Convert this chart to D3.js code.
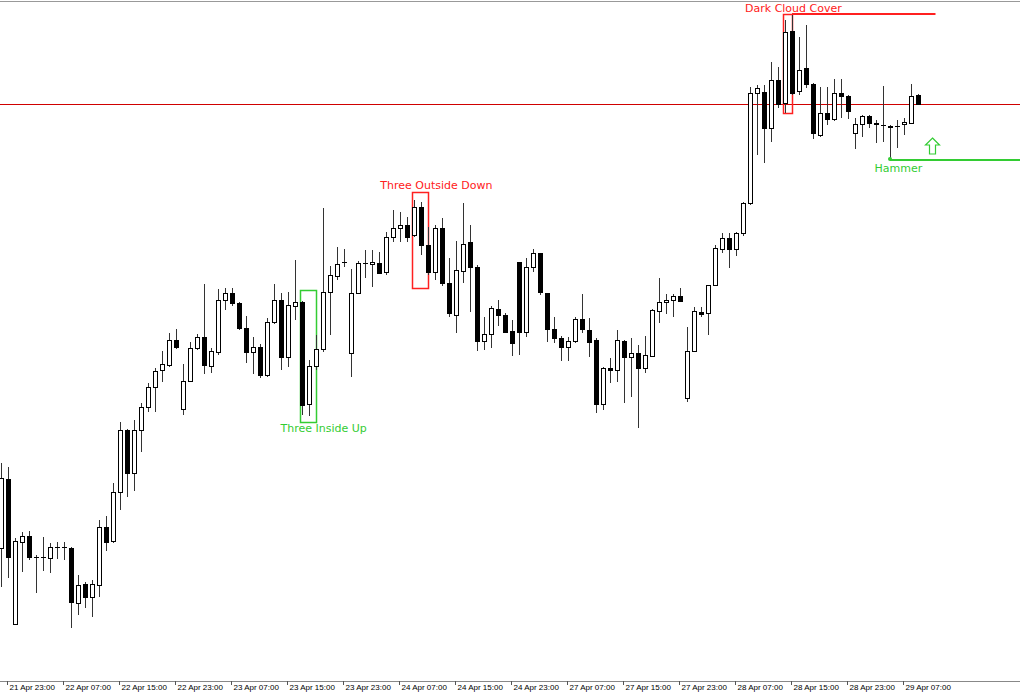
<!DOCTYPE html>
<meta charset="utf-8">
<style>
body { margin: 0; background: #fff; }
.wick { stroke: #333; stroke-width: 1px; shape-rendering: crispEdges; }
.candle { stroke: #000; stroke-width: 1px; shape-rendering: crispEdges; }
.axis text { font-family: "Liberation Sans", sans-serif; font-size: 8px; fill: #000; }
.label { font-family: "DejaVu Sans", sans-serif; font-size: 11px; }
</style>
<svg width="1020" height="700"></svg>
<script src="https://d3js.org/d3.v7.min.js"></script>
<script>

// H1 bars, first one (bar -1) is only half visible at the left edge
// values are price levels (no price scale shown)
var opens = [
  152,
  221, 76, 158, 164, 143, 143, 142, 153, 153, 152,
  97, 116, 103, 115, 173, 159, 208, 270, 227, 270,
  293, 313, 330, 335, 360, 291, 319, 352, 363, 334,
  348, 400, 407, 397, 372, 348, 353, 325, 378, 400,
  343, 394, 398, 296, 334, 351, 408, 424, 438, 347,
  407, 437, 436, 437, 428, 463, 472, 475, 465, 493,
  455, 428, 472, 417, 385, 429, 458, 433, 359, 366,
  391, 385, 369, 438, 368, 433, 447, 407, 371, 362,
  353, 359, 381, 370, 360, 296, 332, 330, 359, 343,
  347, 332, 344, 389, 398, 400, 404, 302, 349, 388,
  387, 415, 451, 462, 451, 467, 497, 607, 608, 572,
  620, 597, 669, 609, 632, 616, 565, 587, 581, 607,
  604, 567, 576, 584, 577, 575, 574, 574, 576, 577,
  605];

var highs = [
  237,
  233, 162, 168, 169, 145, 163, 157, 158, 158, 153,
  125, 118, 120, 180, 184, 217, 278, 271, 280, 297,
  317, 332, 349, 367, 371, 336, 358, 366, 416, 352,
  411, 412, 412, 398, 384, 363, 356, 382, 416, 407,
  408, 440, 399, 340, 365, 492, 434, 453, 451, 431,
  439, 450, 450, 448, 468, 490, 488, 483, 500, 498,
  473, 475, 482, 442, 459, 497, 475, 435, 383, 394,
  400, 387, 380, 438, 442, 451, 447, 407, 383, 364,
  363, 383, 406, 382, 362, 333, 342, 370, 360, 362,
  355, 364, 391, 422, 406, 406, 412, 373, 393, 393,
  415, 455, 467, 467, 468, 498, 613, 615, 615, 638,
  633, 680, 686, 663, 675, 617, 613, 613, 621, 621,
  605, 582, 585, 585, 580, 614, 575, 580, 582, 616,
  606];

var lows = [
  113,
  122, 75, 128, 140, 107, 129, 127, 141, 140, 72,
  85, 92, 83, 103, 149, 157, 190, 203, 209, 248,
  288, 288, 318, 333, 351, 285, 319, 350, 326, 327,
  345, 390, 394, 370, 337, 326, 322, 323, 376, 330,
  333, 380, 285, 284, 330, 348, 365, 420, 433, 323,
  407, 422, 413, 426, 425, 458, 458, 458, 463, 445,
  425, 420, 414, 383, 367, 417, 388, 349, 350, 352,
  374, 367, 344, 345, 363, 428, 405, 358, 357, 339,
  339, 357, 367, 343, 287, 290, 317, 318, 297, 303,
  272, 327, 343, 377, 386, 383, 399, 298, 348, 383,
  365, 414, 447, 432, 444, 464, 495, 545, 537, 558,
  592, 587, 605, 605, 612, 561, 563, 575, 579, 582,
  581, 551, 563, 572, 557, 558, 540, 552, 565, 576,
  596];

var closes = [
  222,
  143, 159, 164, 143, 143, 143, 153, 153, 153, 98,
  115, 103, 116, 173, 158, 208, 270, 227, 270, 293,
  313, 329, 336, 360, 353, 319, 352, 363, 335, 349,
  400, 407, 397, 372, 348, 353, 325, 378, 400, 343,
  395, 398, 295, 334, 351, 408, 425, 436, 438, 407,
  437, 437, 438, 427, 463, 472, 475, 463, 493, 455,
  428, 472, 417, 387, 430, 456, 433, 359, 366, 392,
  385, 368, 357, 368, 433, 447, 408, 371, 362, 353,
  359, 381, 371, 358, 296, 332, 330, 360, 343, 347,
  332, 345, 390, 398, 400, 404, 399, 349, 389, 386,
  415, 452, 462, 451, 467, 497, 607, 612, 572, 620,
  596, 668, 607, 630, 616, 567, 587, 581, 607, 604,
  589, 576, 584, 577, 576, 575, 573, 574, 578, 604,
  596];

var firstBar = -1;

var timeLabels = ["21 Apr 23:00", "22 Apr 07:00", "22 Apr 15:00", "22 Apr 23:00",
  "23 Apr 07:00", "23 Apr 15:00", "23 Apr 23:00", "24 Apr 07:00", "24 Apr 15:00",
  "24 Apr 23:00", "27 Apr 07:00", "27 Apr 15:00", "27 Apr 23:00", "28 Apr 07:00",
  "28 Apr 15:00", "28 Apr 23:00", "29 Apr 07:00"];
var tickBars = timeLabels.map(function(d, i) { return i * 8; });

// candle patterns found
var patternNames = ["Three Inside Up", "Three Outside Down", "Dark Cloud Cover"];
var patternFrom = [42, 58, 111];
var patternTo = [44, 60, 112];
var patternHigh = [410, 508, 686];
var patternLow = [278, 412, 587];
var patternColor = ["#33cc33", "#ff2020", "#ff2020"];
var labelBar = [45.1, 61.2, 112.2];
var labelLevel = [268, 511, 688];

var resistLevel = 596;      // thin red line across the chart
var darkCloudLevel = 686;   // from bar 112
var hammerBar = 126, hammerLevel = 540;
var arrowBar = 132, arrowLow = 546, arrowHigh = 562;

var svg = d3.select("svg"),
    width = +svg.attr("width"),
    height = +svg.attr("height");

var x = d3.scaleLinear().domain([-1, 131]).range([1, 925]);
var y = d3.scaleLinear().domain([0, 700]).range([700, 0]);

var bars = d3.range(opens.length).map(function(i) {
  return { bar: i + firstBar, o: opens[i], h: highs[i], l: lows[i], c: closes[i] };
});

// top border
svg.append("line")
    .attr("x1", 0).attr("x2", width).attr("y1", 1.5).attr("y2", 1.5)
    .attr("stroke", "#999");

// level line
svg.append("line")
    .attr("x1", 0).attr("x2", width)
    .attr("y1", Math.round(y(resistLevel)) + 0.5).attr("y2", Math.round(y(resistLevel)) + 0.5)
    .attr("stroke", "#d00000");

// pattern boxes
svg.selectAll(".pbox")
  .data(patternNames)
  .enter().append("rect")
    .attr("class", "pbox")
    .attr("x", function(d, i) { return x(patternFrom[i]) - 1.5; })
    .attr("y", function(d, i) { return y(patternHigh[i]) + 0.5; })
    .attr("width", function(d, i) { return x(patternTo[i]) - x(patternFrom[i]) + 2; })
    .attr("height", function(d, i) { return y(patternLow[i]) - y(patternHigh[i]); })
    .attr("fill", "none")
    .attr("stroke", function(d, i) { return patternColor[i]; })
    .attr("stroke-width", 1.5);

// wicks
svg.selectAll(".wick")
  .data(bars)
  .enter().append("line")
    .attr("class", "wick")
    .attr("x1", function(d) { return x(d.bar) + 0.5; })
    .attr("x2", function(d) { return x(d.bar) + 0.5; })
    .attr("y1", function(d) { return y(d.h); })
    .attr("y2", function(d) { return y(d.l); });

// bodies
svg.selectAll(".candle")
  .data(bars)
  .enter().append("rect")
    .attr("class", "candle")
    .attr("x", function(d) { return x(d.bar) - 1.5; })
    .attr("width", 4)
    .attr("y", function(d) { return y(Math.max(d.o, d.c)) + 0.5; })
    .attr("height", function(d) { return Math.max(Math.abs(y(d.o) - y(d.c)), 0.01); })
    .attr("fill", function(d) { return d.c >= d.o ? "#fff" : "#000"; });

// dark cloud cover line
svg.append("line")
    .attr("x1", x(112)).attr("x2", x(arrowBar + 0.5))
    .attr("y1", y(darkCloudLevel)).attr("y2", y(darkCloudLevel))
    .attr("stroke", "#ff2020").attr("stroke-width", 2);

// hammer line
svg.append("line")
    .attr("x1", x(hammerBar)).attr("x2", width)
    .attr("y1", y(hammerLevel)).attr("y2", y(hammerLevel))
    .attr("stroke", "#33cc33").attr("stroke-width", 2);
svg.append("circle")
    .attr("cx", x(hammerBar)).attr("cy", y(hammerLevel) - 1)
    .attr("r", 2).attr("fill", "#33cc33");

// hollow up arrow
var ax = x(arrowBar) + 0.5, at = y(arrowHigh), ab = y(arrowLow);
svg.append("path")
    .attr("d", "M" + ax + "," + at + " L" + (ax + 7) + "," + (at + 7) + " L" + (ax + 3) + "," + (at + 7) +
               " L" + (ax + 3) + "," + ab + " L" + (ax - 3) + "," + ab + " L" + (ax - 3) + "," + (at + 7) +
               " L" + (ax - 7) + "," + (at + 7) + " Z")
    .attr("fill", "#fff")
    .attr("stroke", "#33cc33")
    .attr("stroke-width", 1.2);

// pattern labels
var labels = patternNames.concat(["Hammer"]);
var lBars = labelBar.concat([127.2]);
var lLevels = labelLevel.concat([528]);
var lColors = patternColor.concat(["#33cc33"]);
svg.selectAll(".label")
  .data(labels)
  .enter().append("text")
    .attr("class", "label")
    .attr("x", function(d, i) { return x(lBars[i]); })
    .attr("y", function(d, i) { return y(lLevels[i]); })
    .attr("text-anchor", "middle")
    .attr("fill", function(d, i) { return lColors[i]; })
    .text(function(d) { return d; });

// time axis
var axisY = 681;
svg.append("line")
    .attr("x1", 0).attr("x2", width).attr("y1", axisY + 0.5).attr("y2", axisY + 0.5)
    .attr("stroke", "#888");

var axis = svg.append("g")
    .attr("class", "axis")
    .attr("transform", "translate(-1," + axisY + ")")
    .call(d3.axisBottom(x)
      .tickValues(tickBars)
      .tickSize(4)
      .tickFormat(function(d, i) { return timeLabels[i]; }));
axis.select(".domain").remove();
axis.selectAll(".tick line").attr("stroke", "#555");
axis.selectAll(".tick text")
    .attr("text-anchor", "start")
    .attr("x", 2)
    .attr("y", 3);

</script>
